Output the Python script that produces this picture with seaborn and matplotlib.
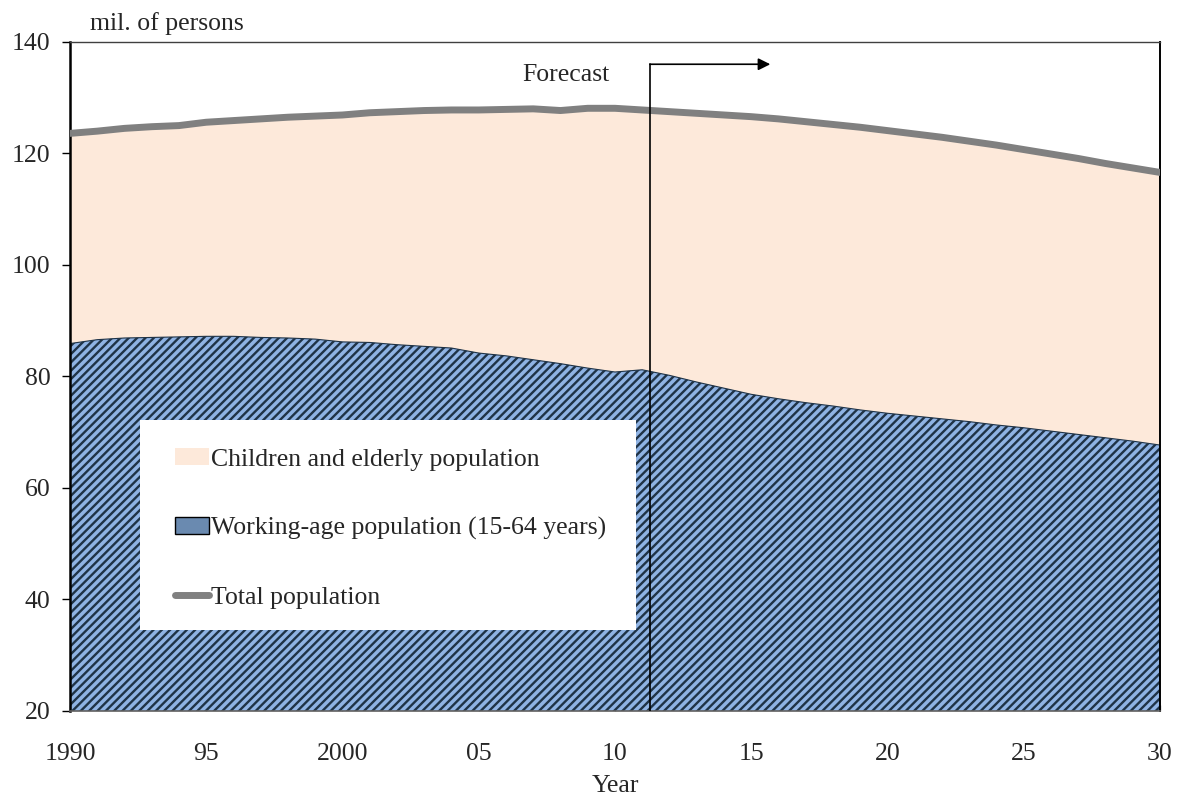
import numpy as np
import pandas as pd
import seaborn as sns
import matplotlib.pyplot as plt
from matplotlib.patches import Patch, Rectangle
from matplotlib.lines import Line2D

years = list(range(1990, 2031))
total_pop = [123.6, 124.0, 124.5, 124.8, 125.0, 125.6, 125.9, 126.2, 126.5, 126.7,
             126.9, 127.3, 127.5, 127.7, 127.8, 127.8, 127.9, 128.0, 127.7, 128.1,
             128.1, 127.8, 127.5, 127.2, 126.9, 126.6, 126.2, 125.7, 125.2, 124.7,
             124.1, 123.5, 122.9, 122.2, 121.5, 120.7, 119.9, 119.1, 118.2, 117.4,
             116.6]
working_pop = [85.9, 86.6, 86.9, 87.0, 87.1, 87.2, 87.2, 87.0, 86.9, 86.7,
               86.2, 86.1, 85.7, 85.4, 85.1, 84.2, 83.7, 83.0, 82.3, 81.5,
               80.8, 81.2, 80.2, 79.0, 77.9, 76.8, 76.0, 75.3, 74.7, 74.0,
               73.4, 72.9, 72.4, 71.9, 71.3, 70.8, 70.2, 69.6, 69.0, 68.4,
               67.7]
xtick_vals = [1990, 1995, 2000, 2005, 2010, 2015, 2020, 2025, 2030]
xtick_labels = ["1990", "95", "2000", "05", "10", "15", "20", "25", "30"]
forecast_year = 2011.3

df = pd.DataFrame({"Year": years, "Total": total_pop, "Working": working_pop})

sns.set_style("white")
plt.rcParams['font.family'] = ['Liberation Serif', 'DejaVu Serif']
plt.rcParams['hatch.linewidth'] = 1.7
plt.rcParams['hatch.color'] = '#1f3347'

fig = plt.figure(figsize=(11.84, 7.96), dpi=100)
ax = fig.add_axes([0.0591, 0.1068, 0.9206, 0.8405])

fs = 18.5
peach = '#fde9da'
blue = '#8fb3e4'

ax.fill_between(df["Year"], df["Working"], df["Total"], color=peach, lw=0, zorder=1)
ax.fill_between(df["Year"], 20, df["Working"], facecolor=blue, edgecolor='#1f3347',
                hatch='////', lw=0, zorder=1)
ax.plot(df["Year"], df["Working"], color='#1f3347', lw=0.8, zorder=2)
sns.lineplot(data=df, x="Year", y="Total", color='#808080', lw=5, ax=ax, zorder=3)

ax.set_xlim(1990, 2030)
ax.set_ylim(20, 140)
ax.set_xticks(xtick_vals)
ax.set_xticklabels(xtick_labels)
ax.set_yticks(range(20, 141, 20))
ax.tick_params(axis='y', labelsize=fs, direction='out', length=6, width=1,
               color='black', left=True, pad=8)
ax.tick_params(axis='x', labelsize=fs, direction='in', length=4, width=1,
               color='#909090', bottom=True, pad=23)
ax.spines['left'].set_color('black')
ax.spines['left'].set_linewidth(1.8)
ax.spines['right'].set_color('black')
ax.spines['right'].set_linewidth(1.4)
ax.spines['top'].set_color('#404040')
ax.spines['top'].set_linewidth(1.0)
ax.spines['bottom'].set_color('#606060')
ax.spines['bottom'].set_linewidth(1.2)
ax.set_xlabel("Year", fontsize=fs, labelpad=7)
ax.set_ylabel("")
ax.text(90 / 1184, 1 - 24 / 796, "mil. of persons", transform=fig.transFigure,
        fontsize=fs, ha='left', va='center')

# forecast marker
ax.plot([forecast_year, forecast_year], [20, 136.0], color='black', lw=1.2, zorder=4)
ax.annotate("", xy=(2015.7, 136.0), xytext=(forecast_year - 0.02, 136.0),
            arrowprops=dict(arrowstyle='-|>', color='black', lw=1.2,
                            mutation_scale=18, shrinkA=0, shrinkB=0), zorder=4)
ax.text(2008.2, 134.0, "Forecast", fontsize=fs, ha='center', va='center', zorder=4)

# legend box
ax.add_patch(Rectangle((0.064, 0.121), 0.455, 0.314, transform=ax.transAxes,
                       facecolor='white', edgecolor='none', zorder=5))
handles = [Patch(facecolor=peach, edgecolor='none'),
           Patch(facecolor='#6a8ab0', edgecolor='black'),
           Line2D([0], [0], color='#808080', lw=5, solid_capstyle='round')]
labels = ["Children and elderly population",
          "Working-age population (15-64 years)",
          "Total population"]
leg = ax.legend(handles, labels, loc='upper left', bbox_to_anchor=(0.085, 0.412),
                frameon=False, fontsize=fs, labelspacing=1.8, handlelength=1.3,
                handleheight=0.65, handletextpad=0.08, borderpad=0)
leg.set_zorder(6)

fig.savefig("out.png", dpi=100)
